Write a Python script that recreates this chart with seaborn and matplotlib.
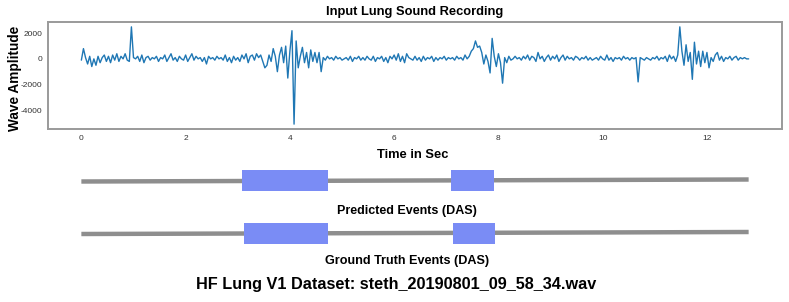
import numpy as np
import pandas as pd
import matplotlib
matplotlib.use("Agg")
import matplotlib.pyplot as plt
import seaborn as sns

# ---------------- data ----------------
sample_step = 0.04  # seconds between plotted samples
wave_amplitude = [
    -100, 800, 100, -400, 200, -600, 0, -500, 200, -300,
    100, 300, -200, 200, -300, 300, -100, 400, -200, 200,
    0, 400, -100, -200, 2500, 100, 0, 200, -200, 300,
    -300, 100, 200, -100, 100, 0, 200, -200, 100, 0,
    300, -200, 100, 400, -100, 100, -200, 200, 0, -100,
    300, -200, 100, 400, -100, 200, 0, 100, -200, 100,
    -400, 200, 0, 100, -100, 200, 0, 100, -100, 300,
    -200, 100, -300, 200, -100, 100, -200, 300, 0, 400,
    -300, 200, 300, -100, 400, 100, 300, -200, -700, -500,
    300, -200, 800, 200, -1000, 300, 900, -300, 1000, -1500,
    600, 2200, -5100, 1400, -700, 200, 900, -300, 500, -700,
    700, -200, 500, -300, 500, -1000, 100, -100, 200, 0,
    100, -100, 200, 0, 100, -100, 0, 100, -100, 200,
    -200, 100, 0, 200, -100, 100, -100, 200, 0, -100,
    200, -200, 100, 0, 200, -200, 100, -300, 200, 0,
    300, -100, 400, -200, 200, -300, 400, 100, 0, -100,
    200, -100, 100, -200, 200, -100, 100, 0, 200, -200,
    100, -100, 100, 0, 200, -100, 100, 0, 100, -100,
    200, 0, 100, -100, 300, 0, 200, 600, 800, 1400,
    900, 1000, 500, -400, 300, -200, -1100, 1600, 200, -600,
    400, -300, -1900, 100, -300, 200, -100, 0, 200, 0,
    100, -100, 200, 0, 300, -100, 200, 100, -200, 500,
    0, 200, -200, 100, 300, -100, 200, 0, 300, -200,
    100, 300, -100, 200, 0, 100, -100, 200, 100, -100,
    100, 0, 200, -100, 100, -100, 0, 100, -100, 200,
    0, -100, 300, -100, 100, -200, 100, 0, 100, -100,
    200, 0, 100, -100, 100, 0, 100, -1800, 100, 0,
    -100, 100, 0, -100, 100, 0, 200, -100, 100, 0,
    200, -200, 300, 0, 200, -200, 300, 2500, 600, -500,
    1100, -200, 500, -1600, 1300, -400, 600, -600, 600, -300,
    500, -700, 100, -200, 300, 500, -100, 200, -200, 100,
    0, 200, -100, 100, 200, -100, 100, 0, 100, 0,
    0,
]
predicted_starts = [3.09, 7.09]
predicted_ends = [4.74, 7.92]
truth_starts = [3.12, 7.12]
truth_ends = [4.74, 7.94]

title_top = "Input Lung Sound Recording"
xlabel_top = "Time in Sec"
ylabel_top = "Wave Amplitude"
label_pred = "Predicted Events (DAS)"
label_truth = "Ground Truth Events (DAS)"
suptitle = "HF Lung V1 Dataset: steth_20190801_09_58_34.wav"

# ---------------- style ----------------
sns.set_theme(style="white")
plt.rcParams["font.family"] = ["Liberation Sans", "DejaVu Sans"]
plt.rcParams["text.color"] = "black"
plt.rcParams["axes.unicode_minus"] = False

fig = plt.figure(figsize=(7.89, 3.02), dpi=100)
W, H = 789, 302

def box(x0, y0, x1, y1):
    return [x0 / W, 1 - y1 / H, (x1 - x0) / W, (y1 - y0) / H]

ax = fig.add_axes(box(48, 22, 782, 129))
df = pd.DataFrame({"time": np.arange(len(wave_amplitude)) * sample_step,
                   "amp": wave_amplitude})
sns.lineplot(data=df, x="time", y="amp", ax=ax, color="#1f77b4", linewidth=1.0)
ax.set_xticks([0, 2, 4, 6, 8, 10, 12])
ax.set_yticks([-4000, -2000, 0, 2000])
ax.tick_params(axis="both", labelsize=6.0, labelcolor="#333333", length=0, pad=4)
for s in ax.spines.values():
    s.set_color("#9a9a9a")
    s.set_linewidth(1.4)
ax.set_xlabel("")
ax.set_ylabel("")
xlim = ax.get_xlim()

fig.text(415 / W, 1 - 12 / H, title_top, ha="center", va="center",
         fontsize=9.3, fontweight="bold")
fig.text(413 / W, 1 - 155 / H, xlabel_top, ha="center", va="center",
         fontsize=9.3, fontweight="bold")
fig.text(15 / W, 1 - 78 / H, ylabel_top, ha="center", va="center",
         rotation=90, fontsize=9.8, fontweight="bold")

# ---------------- event strips ----------------
duration = df["time"].iloc[-1]
ev = fig.add_axes(box(48, 160, 782, 270))
ev.set_xlim(xlim)
ev.set_ylim(270, 160)
ev.axis("off")

def strip(yc, starts, ends):
    ev.plot([0, duration], [yc + 1, yc - 1], color="#8e8e8e", linewidth=3.2,
            solid_capstyle="butt", zorder=1)
    for s0, e0 in zip(starts, ends):
        ev.fill_between([s0, e0], yc - 10.5, yc + 10.5, color="#7a8cf5",
                        linewidth=0, zorder=2)

strip(180.5, predicted_starts, predicted_ends)
strip(233, truth_starts, truth_ends)

fig.text(407 / W, 1 - 211 / H, label_pred, ha="center", va="center",
         fontsize=9.0, fontweight="bold")
fig.text(407 / W, 1 - 261 / H, label_truth, ha="center", va="center",
         fontsize=9.1, fontweight="bold")
fig.text(396 / W, 1 - 285 / H, suptitle, ha="center", va="center",
         fontsize=11.7, fontweight="bold")

fig.savefig("out.png", dpi=100)
